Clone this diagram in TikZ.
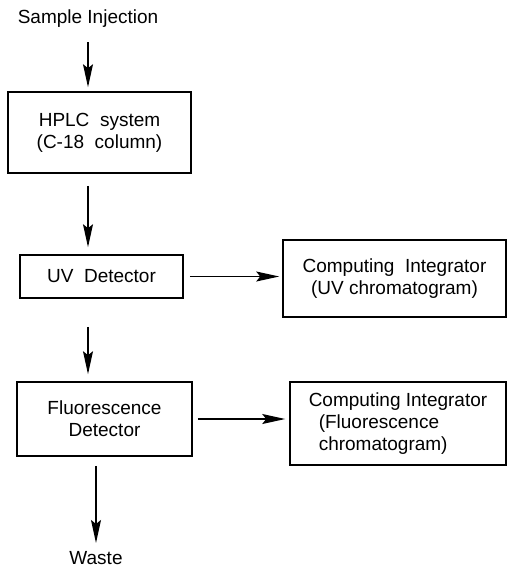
\documentclass[tikz,border=0pt]{standalone}
\usepackage{fontspec}
\setmainfont{Liberation Sans}
\usetikzlibrary{arrows.meta, positioning}
\tikzset{
  unit/.style={rectangle, draw=black, line width=0.8pt, fill=white, align=center,
               font=\fontsize{9.5}{11}\selectfont, inner sep=2pt},
  lbl/.style={align=center, font=\fontsize{9.5}{11}\selectfont, inner sep=3pt},
  arr/.style={-{Stealth[length=11.5pt, width=5pt, inset=2pt]}, line width=0.65pt, draw=black},
}
\begin{document}
\begin{tikzpicture}[x=0.5pt, y=-0.5pt]
\useasboundingbox (0,0) rectangle (507,569);
% Main column of the flow
\node[lbl] (inj) at (88, 19) {Sample Injection};
\node[unit, minimum width=91.5pt, minimum height=40.5pt] (hplc) at (99.5, 132.5) {HPLC\ \ system\\ (C-18\ \ column)};
\node[unit, minimum width=81.5pt, minimum height=21.5pt] (uv) at (101.5, 276.5) {UV\ \ Detector};
\node[unit, minimum width=87.5pt, minimum height=37pt, text width=80pt] (fl) at (104.5, 419) {Fluorescence\\ Detector\hspace*{5pt}};
\node[lbl] (waste) at (96, 558) {Waste};

% Integrators on the right
\node[unit, minimum width=111.5pt, minimum height=38.5pt] (ciuv) at (394.5, 278.5) {Computing\ \ Integrator\\ (UV chromatogram)};
\node[unit, minimum width=108pt, minimum height=41.5pt, align=left] (cifl) at (398, 423.5) {Computing Integrator\\ \hspace*{5pt}(Fluorescence\\ \hspace*{5pt}chromatogram)};

% Flow arrows
\draw[arr, shorten <=4pt, shorten >=2pt] (inj.south) -- (hplc.north -| inj.south);
\draw[arr, shorten <=6pt, shorten >=3.5pt] (hplc.south -| inj.south) -- (uv.north -| inj.south);
\draw[arr, shorten <=14pt, shorten >=3.5pt] (uv.south -| inj.south) -- (fl.north -| inj.south);
\draw[arr, shorten <=4.5pt, shorten >=1pt] (fl.south -| waste.north) -- (waste.north);

% Signals to the integrators
\draw[arr, shorten <=3pt, shorten >=1.5pt] (uv.east) -- (uv.east -| ciuv.west);
\draw[arr, shorten <=2.5pt, shorten >=2pt] (fl.east) -- (fl.east -| cifl.west);
\end{tikzpicture}
\end{document}
